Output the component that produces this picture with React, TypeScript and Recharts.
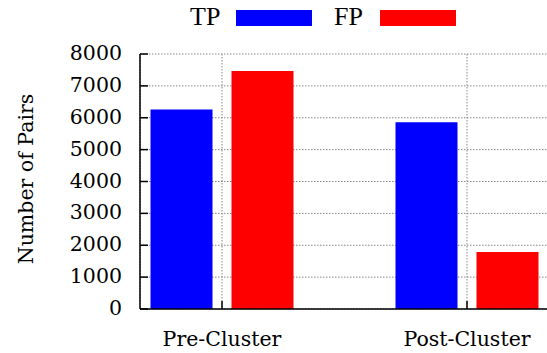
import { BarChart, Bar, XAxis, YAxis, CartesianGrid, Legend } from 'recharts';

const categories = ['Pre-Cluster', 'Post-Cluster'];
const seriesNames = ['TP', 'FP'];
const tpValues = [6260, 5860];
const fpValues = [7470, 1790];
const yTicks = [0, 1000, 2000, 3000, 4000, 5000, 6000, 7000, 8000];
const yLabel = 'Number of Pairs';

const data = categories.map((name, i) => ({ name, tp: tpValues[i], fp: fpValues[i] }));

// svg text only picks up DejaVu Serif here, sized down to match the Times widths
const SVG_FONT = 'DejaVu Serif';
const SVG_SIZE = 20.5;
const LEGEND_FONT = '"Liberation Serif", "Times New Roman", serif';

const YTick = ({ x, y, payload }: any) => (
  <text x={x} y={y} dy={6} textAnchor="end" fontFamily={SVG_FONT} fontSize={SVG_SIZE} fill="#000">
    {payload.value}
  </text>
);

const XTick = ({ x, y, payload }: any) => (
  <text x={x} y={y} dy={18} textAnchor="middle" fontFamily={SVG_FONT} fontSize={SVG_SIZE} fill="#000">
    {payload.value}
  </text>
);

const YLabel = () => (
  <text x={26} y={179} transform="rotate(-90 26 179)" textAnchor="middle" dominantBaseline="central" fontFamily={SVG_FONT} fontSize={SVG_SIZE} fill="#000">
    {yLabel}
  </text>
);

const renderLegend = ({ payload }: any) => {
  const items = seriesNames
    .map((n) => (payload || []).find((p: any) => p.value === n))
    .filter(Boolean);
  return (
    <div style={{ position: 'relative', height: 0 }}>
      {items.map((item: any, i: number) => (
        <div key={item.value} style={{ position: 'absolute', left: 190 + i * 144, top: 4 }}>
          <span style={{ fontFamily: LEGEND_FONT, fontSize: 26, lineHeight: '26px', color: '#000' }}>{item.value}</span>
          <span style={{ position: 'absolute', left: 46, top: 6, width: 76, height: 16, background: item.color }} />
        </div>
      ))}
    </div>
  );
};

export default function App() {
  return (
    <div style={{ position: 'absolute', left: 0, top: 0 }}>
      <BarChart width={560} height={353} data={data} barGap={19} margin={{ top: 54, right: 11, left: 80, bottom: 0 }}>
        <CartesianGrid stroke="#888" strokeDasharray="1.5 1.5" />
        <XAxis
          dataKey="name"
          height={44}
          padding={{ left: -40.5, right: -40.5 }}
          tickSize={-8}
          tickMargin={27}
          axisLine={{ stroke: '#000', strokeWidth: 1.5 }}
          tickLine={{ stroke: '#000', strokeWidth: 1.5 }}
          tick={<XTick />}
        />
        <XAxis
          xAxisId="top"
          orientation="top"
          dataKey="name"
          height={0}
          padding={{ left: -40.5, right: -40.5 }}
          tickSize={-8}
          tick={false}
          axisLine={{ stroke: '#000', strokeWidth: 1.5 }}
          tickLine={{ stroke: '#000', strokeWidth: 1.5 }}
        />
        <YAxis
          width={60}
          domain={[0, 8000]}
          ticks={yTicks}
          interval={0}
          tickSize={-8}
          tickMargin={26}
          axisLine={{ stroke: '#000', strokeWidth: 1.5 }}
          tickLine={{ stroke: '#000', strokeWidth: 1.5 }}
          tick={<YTick />}
          label={{ content: () => <YLabel /> }}
        />
        <YAxis
          yAxisId="right"
          orientation="right"
          width={0}
          domain={[0, 8000]}
          ticks={yTicks}
          interval={0}
          tickSize={-8}
          tick={false}
          axisLine={{ stroke: '#000', strokeWidth: 1.5 }}
          tickLine={{ stroke: '#000', strokeWidth: 1.5 }}
        />
        <Legend verticalAlign="top" content={renderLegend} wrapperStyle={{ position: 'absolute', top: 0, left: 0, width: 560, height: 0 }} />
        <Bar dataKey="tp" name="TP" fill="#0000ff" barSize={62} isAnimationActive={false} />
        <Bar dataKey="fp" name="FP" fill="#ff0000" barSize={62} isAnimationActive={false} />
      </BarChart>
    </div>
  );
}
